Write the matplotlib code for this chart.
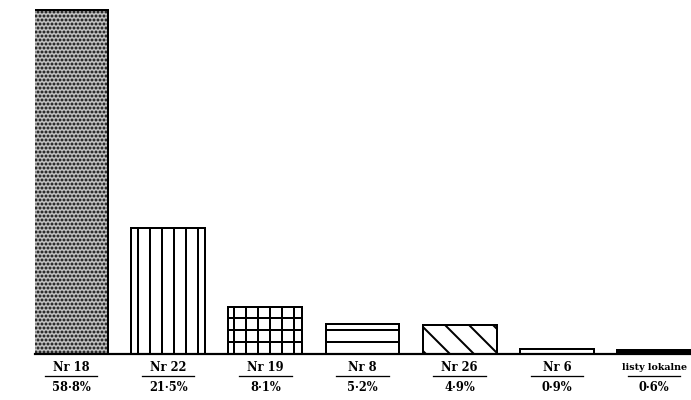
import matplotlib
matplotlib.use("Agg")
import matplotlib.pyplot as plt
from matplotlib.lines import Line2D
import matplotlib.transforms as mtransforms

categories = ["Nr 18", "Nr 22", "Nr 19", "Nr 8", "Nr 26", "Nr 6", "listy lokalne"]
values = [58.8, 21.5, 8.1, 5.2, 4.9, 0.9, 0.6]
value_labels = ["58·8%", "21·5%", "8·1%", "5·2%", "4·9%", "0·9%", "0·6%"]

faces = ["#c4c4c4", "white", "white", "white", "white", "white", "black"]
hatches = ["...", "|", "+", "-", "\\", None, None]

plt.rcParams["hatch.linewidth"] = 2.0
DPI = 72
fig = plt.figure(figsize=(691 / DPI, 400 / DPI), dpi=DPI)
ax = fig.add_axes([35 / 691, 46 / 400, 656 / 691, 354 / 400])

x = list(range(len(categories)))
bars = ax.bar(x, values, width=0.76, color=faces, edgecolor="black",
              linewidth=2.0, zorder=2)
for b, h in zip(bars, hatches):
    if h:
        b.set_hatch(h)

ax.set_xlim(-0.37, 6.38)
ax.set_ylim(0, 60.5)
for s in ["top", "left", "right"]:
    ax.spines[s].set_visible(False)
ax.spines["bottom"].set_linewidth(2.2)
ax.set_xticks([])
ax.set_yticks([])

trans = mtransforms.blended_transform_factory(ax.transData, ax.transAxes)
for xi, cat, lab in zip(x, categories, value_labels):
    size = 11.5 if len(cat) < 8 else 9.5
    ax.text(xi, -0.038, cat, transform=trans, ha="center", va="center",
            clip_on=False, family="DejaVu Serif", weight="bold", size=size)
    ax.add_line(Line2D([xi - 0.27, xi + 0.27], [-0.063, -0.063],
                       transform=trans, color="black", linewidth=1.3,
                       clip_on=False))
    ax.text(xi, -0.096, lab, transform=trans, ha="center", va="center",
            clip_on=False, family="DejaVu Serif", weight="bold", size=11.5)

fig.savefig("out.png", dpi=DPI, facecolor="white")
